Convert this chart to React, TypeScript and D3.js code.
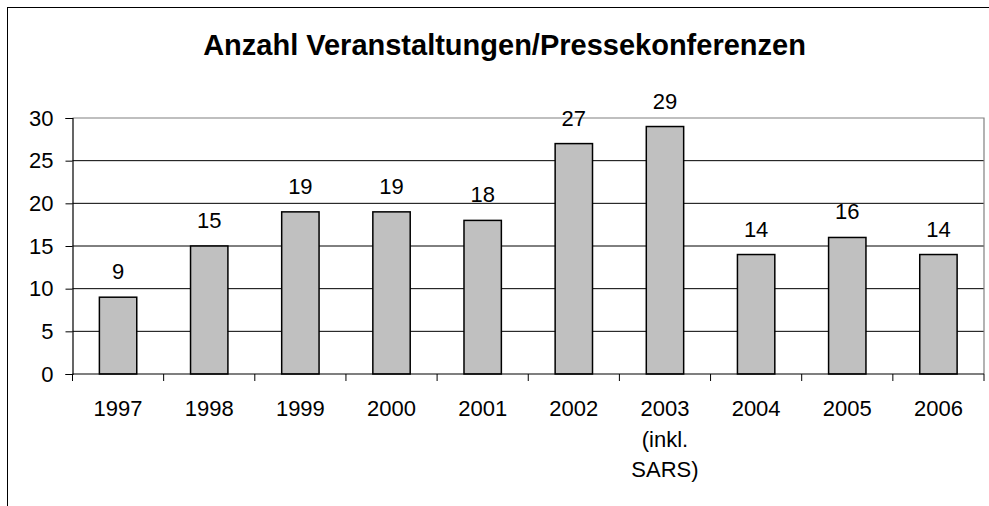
import React, { useEffect, useRef } from "react";
import * as d3 from "d3";

// chart data
const years = ["1997", "1998", "1999", "2000", "2001", "2002", "2003", "2004", "2005", "2006"];
const yearLabels = [["1997"], ["1998"], ["1999"], ["2000"], ["2001"], ["2002"], ["2003", "(inkl.", "SARS)"], ["2004"], ["2005"], ["2006"]];
const counts = [9, 15, 19, 19, 18, 27, 29, 14, 16, 14];
const yTicks = [0, 5, 10, 15, 20, 25, 30];
const title = "Anzahl Veranstaltungen/Pressekonferenzen";

const W = 989;
const H = 506;
const font = "'Liberation Sans', Arial, sans-serif";

export default function App() {
  const ref = useRef<SVGSVGElement>(null);

  useEffect(() => {
    const svg = d3.select(ref.current);
    svg.selectAll("*").remove();

    // plot area
    const left = 72.5, right = 984, top = 118, bottom = 374;

    const x = d3.scaleBand().domain(years).range([left, right]).padding(0);
    const xBar = d3.scaleBand().domain(years).range([left, right]).paddingInner(0.59).paddingOuter(0.295);
    const y = d3.scaleLinear().domain([0, 30]).range([bottom, top]);

    // outer frame (clipped at right/bottom like the picture)
    svg.append("rect")
      .attr("x", 7.5).attr("y", 7.5)
      .attr("width", 1000).attr("height", 520)
      .attr("fill", "white").attr("stroke", "black").attr("stroke-width", 1);

    // title
    svg.append("text")
      .attr("x", 504.5).attr("y", 55)
      .attr("text-anchor", "middle")
      .attr("font-family", font).attr("font-weight", "bold").attr("font-size", 29)
      .text(title);

    // gridlines
    svg.append("g").selectAll("line")
      .data(yTicks.filter(t => t > 0 && t < 30))
      .join("line")
      .attr("x1", left).attr("x2", right)
      .attr("y1", d => y(d)).attr("y2", d => y(d))
      .attr("stroke", "black").attr("stroke-width", 1);

    // plot border top/right in gray
    svg.append("path")
      .attr("d", `M${left},${y(30)}H${right}V${bottom}`)
      .attr("fill", "none").attr("stroke", "#808080").attr("stroke-width", 1.2);

    // bars
    svg.append("g").selectAll("rect")
      .data(counts)
      .join("rect")
      .attr("x", (d, i) => xBar(years[i])!)
      .attr("width", xBar.bandwidth())
      .attr("y", d => y(d))
      .attr("height", d => bottom - y(d))
      .attr("fill", "#c0c0c0").attr("stroke", "black").attr("stroke-width", 1.5);

    // value labels
    svg.append("g").selectAll("text")
      .data(counts)
      .join("text")
      .attr("x", (d, i) => x(years[i])! + x.bandwidth() / 2)
      .attr("y", d => y(d) - 18)
      .attr("text-anchor", "middle")
      .attr("font-family", font).attr("font-size", 22)
      .text(d => d);

    // y axis
    const yAxis = svg.append("g").attr("transform", `translate(${left},0)`)
      .call(d3.axisLeft(y).tickValues(yTicks).tickSize(7).tickPadding(12));
    yAxis.select(".domain").attr("stroke", "black").attr("stroke-width", 1.2);
    yAxis.selectAll(".tick line").attr("stroke", "black");
    yAxis.selectAll(".tick text")
      .attr("font-family", font).attr("font-size", 22).attr("fill", "black");

    // x axis: ticks at category boundaries
    const xg = svg.append("g");
    xg.append("line")
      .attr("x1", left).attr("x2", right)
      .attr("y1", bottom).attr("y2", bottom)
      .attr("stroke", "black").attr("stroke-width", 1.2);
    xg.selectAll(".xt")
      .data(years.concat(["end"]))
      .join("line")
      .attr("class", "xt")
      .attr("x1", (d, i) => left + i * x.step())
      .attr("x2", (d, i) => left + i * x.step())
      .attr("y1", bottom).attr("y2", bottom + 7)
      .attr("stroke", "black");

    xg.selectAll(".xl")
      .data(yearLabels)
      .join("text")
      .attr("class", "xl")
      .attr("text-anchor", "middle")
      .attr("font-family", font).attr("font-size", 22)
      .attr("add_lines", function (lines, i) {
        d3.select(this).selectAll("tspan")
          .data(lines)
          .join("tspan")
          .attr("x", x(years[i])! + x.bandwidth() / 2)
          .attr("y", (d, j) => 416 + j * 30.5)
          .text(d => d);
        return null;
      });
  }, []);

  return (
    <svg
      ref={ref}
      width={W}
      height={H}
      style={{ position: "absolute", left: 0, top: 0, background: "white" }}
    />
  );
}
